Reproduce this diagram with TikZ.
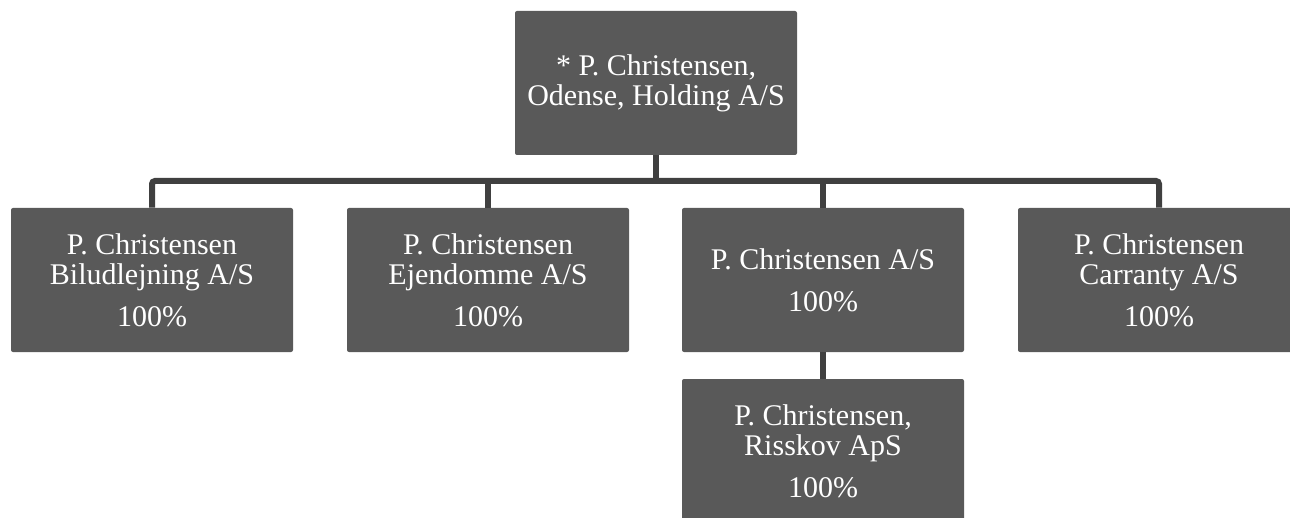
\documentclass[tikz,border=0pt]{standalone}
\usepackage{fontspec}
\setmainfont{Liberation Serif}
\definecolor{boxfill}{HTML}{595959}
\definecolor{linecol}{HTML}{404040}
\begin{document}
\begin{tikzpicture}[x=0.5pt,y=-0.5pt,
  orgbox/.style={rectangle, fill=boxfill, text=white, rounded corners=1pt,
    minimum width=141pt, minimum height=72pt, inner sep=0pt, align=center,
    font=\fontsize{15pt}{15pt}\selectfont},
  conn/.style={draw=linecol, line width=3pt, rounded corners=1.5pt}]
\clip (0,0) rectangle (1290,518);
\useasboundingbox (0,0) rectangle (1290,518);
\node[orgbox] (top) at (656,83) {* P. Christensen,\\Odense, Holding A/S};
\node[orgbox] (c1) at (152,280) {P. Christensen\\Biludlejning A/S\\[6pt]100\%};
\node[orgbox] (c2) at (488,280) {P. Christensen\\Ejendomme A/S\\[6pt]100\%};
\node[orgbox] (c3) at (823,280) {P. Christensen A/S\\[6pt]100\%};
\node[orgbox] (c4) at (1159,280) {P. Christensen\\Carranty A/S\\[6pt]100\%};
\node[orgbox] (c5) at (823,451) {P. Christensen,\\Risskov ApS\\[6pt]100\%};
\coordinate (bus) at (656,181);
\draw[conn] (c1.north) -- (c1.north |- bus) -- (c4.north |- bus) -- (c4.north);
\draw[conn] (top.south) -- (top.south |- bus);
\draw[conn] (c2.north) -- (c2.north |- bus);
\draw[conn] (c3.north) -- (c3.north |- bus);
\draw[conn] (c3.south) -- (c5.north);
\end{tikzpicture}
\end{document}
